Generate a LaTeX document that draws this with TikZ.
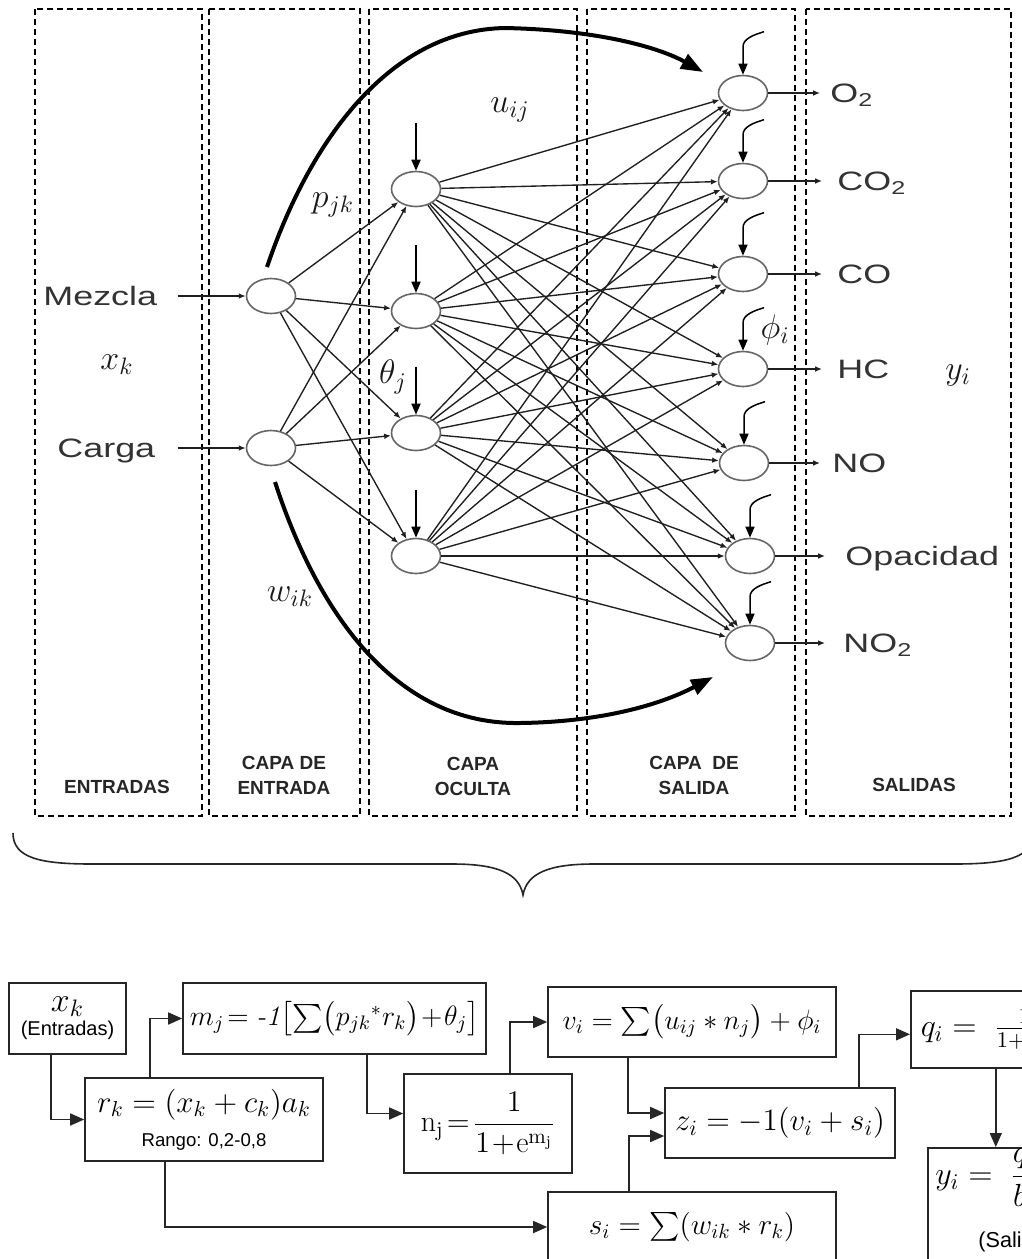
\RequirePackage{fix-cm}
\documentclass[tikz,border=0pt]{standalone}
\usepackage{amsmath}
\usepackage{fontspec}
\usetikzlibrary{shapes.geometric,arrows.meta,calc}
\newfontfamily\lblfont[FakeStretch=1.35]{Liberation Sans}
\newfontfamily\sansfont{Liberation Sans}
\begin{document}
\begin{tikzpicture}[x=0.5pt,y=-0.5pt,
  neuron/.style={ellipse,draw=black!60,line width=0.8pt,fill=white,minimum width=24.5pt,minimum height=17.5pt,inner sep=0pt},
  synapse/.style={draw=black!88,line width=0.68pt,-{Latex[length=3.4pt,width=2.8pt]}},
  biasarr/.style={draw=black,line width=0.85pt,-{Triangle[length=5.5pt,width=4.5pt]}},
  hookarr/.style={draw=black,line width=0.75pt,-{Triangle[length=5.5pt,width=4.5pt]}},
  bigcurve/.style={draw=black,line width=2pt,-{Triangle[length=11pt,width=8pt]}},
  colbox/.style={draw=black,line width=0.7pt,dash pattern=on 3pt off 2pt},
  coltitle/.style={font=\sansfont\bfseries\fontsize{9.5}{12.5}\selectfont,align=center,text=black!85,inner sep=0pt},
  biglbl/.style={font=\lblfont\fontsize{13.3}{16}\selectfont,text=black!80,inner sep=0pt,anchor=west,text height=9.5pt,text depth=0pt},
  mathlbl/.style={font=\fontsize{17}{20}\selectfont,text=black!90,inner sep=0pt},
  eqbox/.style={draw=black!85,line width=0.8pt,rectangle,inner sep=2pt,font=\fontsize{14}{17}\selectfont,align=center},
  flowarr/.style={draw=black!85,line width=0.8pt,-{Triangle[length=7pt,width=6pt]}},
  smalltxt/.style={font=\sansfont\fontsize{9}{11}\selectfont,inner sep=0pt},
]
\useasboundingbox (0,0) rectangle (1022,1259);
\clip (0,0) rectangle (1022,1259);
\fill[white] (0,0) rectangle (1022,1259);

% layer columns
\draw[colbox] (35,9) rectangle (202,816);
\draw[colbox] (209,9) rectangle (360,816);
\draw[colbox] (369,9) rectangle (577,816);
\draw[colbox] (587,9) rectangle (795,816);
\draw[colbox] (806,9) rectangle (1011,816);

\node[coltitle] (t1) at (117,787) {ENTRADAS};
\node[coltitle] (t2) at (284,775.5) {CAPA DE\\ENTRADA};
\node[coltitle] (t3) at (473,776) {CAPA\\OCULTA};
\node[coltitle] (t4) at (694,775.5) {CAPA\ \ DE\\SALIDA};
\node[coltitle] (t5) at (914,785) {SALIDAS};

% direct input-output connections
\coordinate (ta) at (267,267);
\coordinate (tb) at (703,72);
\draw[bigcurve] (ta) .. controls (310,140) and (390,30) .. (505,28) .. controls (600,30) and (660,48) .. (tb);
\coordinate (ba) at (275,482);
\coordinate (bb) at (713,677);
\draw[bigcurve] (ba) .. controls (320,620) and (400,725) .. (520,723) .. controls (600,722) and (660,705) .. (bb);

% neurons
\node[neuron] (in1) at (271,296) {};
\node[neuron] (in2) at (271,448) {};
\node[neuron] (h1) at (416,189) {};
\node[neuron] (h2) at (416,311) {};
\node[neuron] (h3) at (416,433) {};
\node[neuron] (h4) at (416,556) {};
\node[neuron] (o1) at (743,93) {};
\node[neuron] (o2) at (743,181) {};
\node[neuron] (o3) at (743,274) {};
\node[neuron] (o4) at (743,369) {};
\node[neuron] (o5) at (744,463) {};
\node[neuron] (o6) at (750,556) {};
\node[neuron] (o7) at (750,643) {};

\foreach \i in {1,2}{\foreach \j in {1,...,4}{\draw[synapse] (in\i) -- (h\j);}}
\foreach \j in {1,...,4}{\foreach \k in {1,...,7}{\draw[synapse] (h\j) -- (o\k);}}

% inputs
\node[biglbl] (tmz) at (43,296) {Mezcla};
\node[biglbl] (tcg) at (57,448) {Carga};
\draw[synapse] ([xshift=10pt]tmz.east) -- (in1);
\draw[synapse] ([xshift=11pt]tcg.east) -- (in2);

% outputs
\coordinate (e1) at (820,93);
\coordinate (e2) at (822,181);
\coordinate (e3) at (822,274);
\coordinate (e4) at (822,369);
\coordinate (e5) at (820,463);
\coordinate (e6) at (825,556);
\coordinate (e7) at (825,643);
\foreach \k in {1,...,7}{\draw[synapse] (o\k) -- (e\k);}
\node[biglbl] (l1) at (830,93) {O\textsubscript{2}};
\node[biglbl] (l2) at (837,181) {CO\textsubscript{2}};
\node[biglbl] (l3) at (837,274) {CO};
\node[biglbl] (l4) at (837,369) {HC};
\node[biglbl] (l5) at (832,463) {NO};
\node[biglbl] (l6) at (845,556) {Opacidad};
\node[biglbl] (l7) at (843,643) {NO\textsubscript{2}};

% biases of the hidden layer
\foreach \j in {1,...,4}{\draw[biasarr] ([yshift=24pt]h\j.north) -- (h\j.north);}
% biases of the output layer
\foreach \k in {1,...,7}{
  \draw[hookarr] ([xshift=10.5pt,yshift=21.5pt]o\k.north) .. controls +(-10,3) and +(0,-8) .. ([yshift=14pt]o\k.north) -- (o\k.north);
}

% weight and signal labels
\node[mathlbl] (lx) at (117,365) {$x_k$};
\node[mathlbl] (ly) at (958,375) {$y_i$};
\node[mathlbl] (wp) at (333,205) {$p_{jk}$};
\node[mathlbl] (wu) at (510,110) {$u_{ij}$};
\node[mathlbl] (wt) at (393,377) {$\theta_j$};
\node[mathlbl] (wf) at (775,330) {$\phi_i$};
\node[mathlbl] (ww) at (290,597) {$w_{ik}$};

% brace
\draw[line width=0.8pt,black!85] (13,833) .. controls (13,858) and (40,864) .. (92,864) -- (452,864) .. controls (497,864) and (519,873) .. (523,895) .. controls (527,873) and (549,864) .. (594,864) -- (954,864) .. controls (1006,864) and (1033,858) .. (1033,833);

% computation flow
\node[eqbox,minimum width=58.5pt,minimum height=35.5pt] (bx) at (67.5,1018.5) {{\fontsize{17}{17}\selectfont$x_k$}\\[-5pt]{\sansfont\fontsize{10}{10}\selectfont (Entradas)}};
\node[eqbox,minimum width=151.5pt,minimum height=35.5pt,font=\fontsize{14}{17}\selectfont] (bm) at (334.5,1018.5) {$m_j\!=\textit{-1}\bigl[\textstyle\sum\bigl(p_{jk}{}^{*}r_k\bigr)\!+\!\theta_j\bigr]$};
\node[eqbox,minimum width=119pt,minimum height=41.5pt,font=\fontsize{15.5}{17}\selectfont] (br) at (204,1119.5) {$r_k = (x_k + c_k)a_k$\\{\sansfont\fontsize{9.3}{10}\selectfont Rango: 0,2-0,8}};
\node[eqbox,minimum width=84pt,minimum height=49.5pt,font=\fontsize{15}{17}\selectfont] (bn) at (488,1123.5) {$\mathrm{n_j}\!=\!\dfrac{1}{1\!+\!\mathrm{e}^{\mathrm{m_j}}}$};
\node[eqbox,minimum width=144pt,minimum height=35pt] (bv) at (692,1022) {$v_i = \sum\bigl(u_{ij} \ast n_j\bigr) + \phi_i$};
\node[eqbox,minimum width=115pt,minimum height=35pt,font=\fontsize{15.5}{17}\selectfont] (bz) at (780,1123) {$z_i = -1(v_i + s_i)$};
\node[eqbox,minimum width=144pt,minimum height=35pt,font=\fontsize{14.7}{17}\selectfont] (bs) at (692,1227) {$s_i = \sum(w_{ik} \ast r_k)$};
\node[eqbox,anchor=north west,minimum height=38.5pt,text width=105pt,align=left,inner xsep=5pt,font=\fontsize{16}{17}\selectfont] (bq) at (910,990) {$q_i = \;\frac{1}{1+e^{z_i}}$};
\node[eqbox,anchor=north west,minimum width=117pt,minimum height=62pt] (bi) at (927,1147) {};
\node[font=\fontsize{16}{17}\selectfont,anchor=west,inner sep=0pt] (tyi) at (935,1180) {$y_i = \;\dfrac{q_i}{b_i}$};
\node[smalltxt,anchor=west,font=\sansfont\fontsize{10.8}{12}\selectfont] (tsal) at (978,1242) {(Salidas)};

\draw[flowarr] ([xshift=-8.25pt]bx.south) |- (br.west);
\draw[flowarr] ([xshift=-27pt]br.north) |- (bm.west);
\draw[flowarr] ([xshift=16.25pt]bm.south) |- ([yshift=5pt]bn.west);
\draw[flowarr] ([xshift=11pt]bn.north) |- (bv.west);
\draw[flowarr] ([xshift=-32pt]bv.south) |- ([yshift=5pt]bz.west);
\draw[flowarr] ([xshift=-31.5pt]bs.north) |- ([yshift=-6.5pt]bz.west);
\draw[flowarr] ([xshift=-19.5pt]br.south) |- (bs.west);
\draw[flowarr] ([xshift=39.5pt]bz.north) |- ([yshift=-2.5pt]bq.west);
\draw[flowarr] ([xshift=-15pt]bq.south) -- ([xshift=-15pt]bq.south |- bi.north);
\end{tikzpicture}
\end{document}
